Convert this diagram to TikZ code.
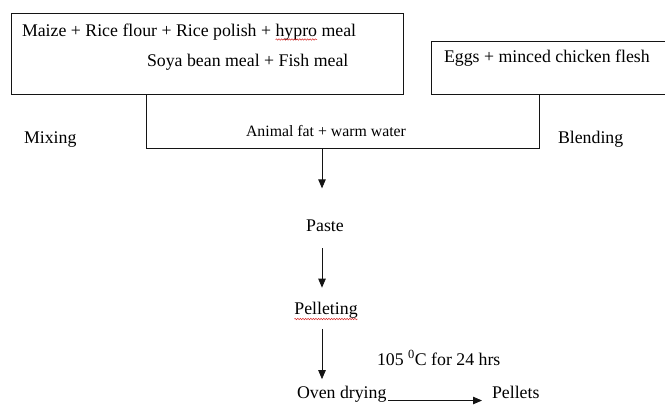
\documentclass[tikz,border=0pt]{standalone}
\usepackage{fontspec}
\setmainfont{Liberation Serif}
\usetikzlibrary{arrows.meta,decorations.pathmorphing}
\definecolor{pdfline}{RGB}{20,20,20}
\definecolor{pdfspell}{RGB}{214,40,40}

\begin{document}
\begin{tikzpicture}[x=1bp,y=-1bp,inner sep=0pt,outer sep=0pt,
  txt/.style={anchor=base west,font=\fontsize{17.8bp}{21.4bp}\selectfont},
  frame/.style={draw=pdfline,line width=0.8bp},
  flow/.style={draw=pdfline,line width=0.8bp,-{Triangle[length=9bp,width=7.5bp]}},
  spell/.style={draw=pdfspell,line width=0.5bp,decorate,decoration={snake,amplitude=0.7bp,segment length=2.6bp}}]
  \useasboundingbox (0,0) rectangle (665,405);
  % ingredient boxes
  \node[frame,anchor=north west,minimum width=392bp,minimum height=81bp] (grains) at (11,13) {};
  \node[anchor=north west,minimum width=234bp,minimum height=53bp] (eggbox) at (431,41) {};
  \draw[frame] (eggbox.north east) -- (eggbox.north west) -- (eggbox.south west) -- (eggbox.south east);
  \node[txt] (maize) at (22,36) {Maize + Rice flour + Rice polish +};
  \node[txt] (hypro) at ([xshift=4.45bp]maize.base east) {hypro};
  \node[txt] (meal) at ([xshift=4.45bp]hypro.base east) {meal};
  \draw[spell] ([yshift=-3.5bp]hypro.base west) -- ([yshift=-3.5bp]hypro.base east);
  \node[txt] (soya) at (147,66) {Soya bean meal + Fish meal};
  \node[txt] (eggs) at (444,62) {Eggs + minced chicken flesh};
  % mixing
  \coordinate (mixL) at (146,148);
  \coordinate (mixR) at (539,148);
  \coordinate (join) at (322,148);
  \draw[frame] (grains.south -| mixL) -- (mixL) -- (mixR) -- (eggbox.south -| mixR);
  \node[txt] (mixing) at (24,143) {Mixing};
  \node[txt] (blending) at (558,143) {Blending};
  \node[anchor=base,font=\fontsize{15.8bp}{19bp}\selectfont] (fat) at (326,136) {Animal fat + warm water};
  % process
  \node[txt,anchor=base] (paste) at (325,231) {Paste};
  \node[txt,anchor=base] (pelleting) at (326,314) {Pelleting};
  \draw[spell] ([yshift=-5bp]pelleting.base west) -- ([yshift=-5bp]pelleting.base east);
  \node[txt] (temp) at (377,365) {105 \textsuperscript{0}C for 24 hrs};
  \node[txt] (oven) at (297,398.5) {Oven drying};
  \node[txt] (pellets) at (492,398.5) {Pellets};
  \draw[flow,shorten >=31bp] (join) -- (join |- paste.north);
  \draw[flow,shorten <=17bp,shorten >=14bp] (paste.south -| join) -- (pelleting.north -| join);
  \draw[flow,shorten <=11bp,shorten >=7bp] (pelleting.south -| join) -- (oven.north -| join);
  \draw[flow,shorten <=2bp,shorten >=10bp] ([yshift=-2bp]oven.base east) -- ([yshift=-2bp]pellets.base west);
\end{tikzpicture}
\end{document}
